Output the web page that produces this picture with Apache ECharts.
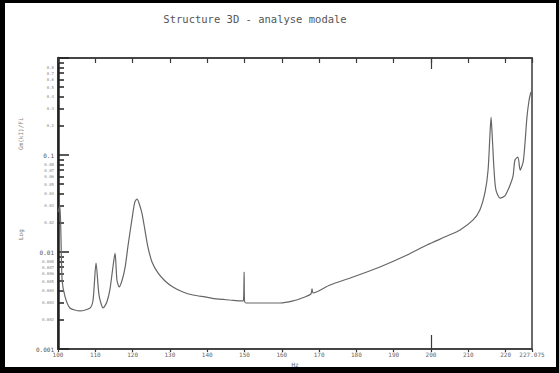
<!DOCTYPE html>
<html>
<head>
<meta charset="utf-8">
<script src="https://cdn.jsdelivr.net/npm/echarts@6/dist/echarts.min.js"></script>
<style>
  html, body { margin: 0; padding: 0; background: #fff; }
  #chart { position: absolute; left: 0; top: 0; width: 559px; height: 373px; }
  #frame { position: absolute; left: 0; top: 0; width: 559px; height: 373px; box-sizing: border-box;
           border-style: solid; border-color: #000; border-width: 3px 3px 6px 5px; pointer-events: none; }
</style>
</head>
<body>
<div id="chart"></div>
<div id="frame"></div>
<script>
// Structure 3D - analyse modale (log amplitude vs frequency)
var freq = [100.0, 100.5, 101.1, 101.9, 103.2, 105.9, 108.6, 109.4, 110.2, 111.0,
            112.1, 113.1, 113.9, 114.8, 115.3, 115.8, 116.4, 117.2, 118.0, 118.8,
            119.8, 120.6, 121.2, 121.7, 122.5, 123.3, 124.1, 125.2, 126.8, 128.7,
            130.8, 133.5, 136.2, 139.4, 142.6, 146.1, 149.3, 149.7, 149.9, 150.0,
            150.4, 154.2, 159.5, 163.0, 166.2, 167.8, 168.1, 168.4, 172.9, 179.1,
            186.3, 193.6, 198.9, 204.3, 207.8, 211.3, 213.1, 214.5, 215.3, 215.8,
            216.1, 216.4, 216.9, 217.4, 218.5, 219.8, 221.2, 222.0, 222.5, 223.3,
            223.9, 224.7, 225.2, 225.7, 226.3, 226.8];
var amp = [0.0258, 0.0305, 0.00514, 0.00344, 0.00265, 0.00247, 0.00265, 0.0032, 0.0077, 0.0036,
           0.00265, 0.00305, 0.00406, 0.00734, 0.00977, 0.00514, 0.00436, 0.00514, 0.0070, 0.0118,
           0.0214, 0.0328, 0.0352, 0.032, 0.0252, 0.0169, 0.0113, 0.00789, 0.00608, 0.00502,
           0.00436, 0.00387, 0.0036, 0.00344, 0.00328, 0.0032, 0.00313, 0.00313, 0.00622, 0.00313,
           0.00298, 0.00298, 0.00298, 0.00313, 0.00344, 0.00369, 0.00416, 0.00378, 0.00457, 0.00552,
           0.0070, 0.0093, 0.0118, 0.0146, 0.0169, 0.0214, 0.0271, 0.0416, 0.070, 0.161,
           0.246, 0.161, 0.070, 0.0436, 0.036, 0.0378, 0.0491, 0.0608, 0.0888, 0.0953,
           0.070, 0.0847, 0.133, 0.240, 0.369, 0.446];

var xMin = 100, xMax = 227.075, xStep = 10;
var xMajor = [200];
var yMajor = [0.001, 0.01, 0.1, 1];
var yMinor = [0.002, 0.003, 0.004, 0.005, 0.006, 0.007, 0.008, 0.009,
              0.02, 0.03, 0.04, 0.05, 0.06, 0.07, 0.08, 0.09,
              0.2, 0.3, 0.4, 0.5, 0.6, 0.7, 0.8, 0.9];
var yLabels = [0.001, 0.002, 0.003, 0.004, 0.005, 0.006, 0.007, 0.008,
               0.01, 0.02, 0.03, 0.04, 0.05, 0.06, 0.07, 0.08,
               0.1, 0.2, 0.3, 0.4, 0.5, 0.6, 0.7, 0.8];

(function() {
  var ink = '#3a3a3a';
  var mono = '"DejaVu Sans Mono", "Liberation Mono", monospace';
  var chart = echarts.init(document.getElementById('chart'), null, { renderer: 'svg' });

  var points = freq.map(function(f, i) { return [f, amp[i]]; });

  function xAxisBase(pos) {
    return {
      type: 'value', position: pos, min: xMin, max: xMax, interval: xStep,
      axisLine: { show: true, onZero: false, lineStyle: { color: ink, width: 1.5 } },
      axisTick: { show: true, inside: true, length: 5, lineStyle: { color: ink, width: 1.2 } },
      axisLabel: { show: false },
      splitLine: { show: false }
    };
  }

  var bottomX = xAxisBase('bottom');
  bottomX.axisTick.inside = false;
  bottomX.axisTick.length = 3;
  bottomX.axisLabel = { show: true, color: '#666', fontSize: 6, fontFamily: mono, margin: 2,
                        showMinLabel: true, showMaxLabel: true };
  bottomX.name = 'Hz';
  bottomX.nameLocation = 'middle';
  bottomX.nameGap = 12;
  bottomX.nameTextStyle = { color: '#666', fontSize: 6, fontFamily: mono };

  var bottomMajor = xAxisBase('bottom');
  bottomMajor.axisLine.show = false;
  bottomMajor.axisTick = { show: true, inside: true, length: 14, customValues: xMajor,
                           lineStyle: { color: ink, width: 1.2 } };
  var topX = xAxisBase('top');
  var topMajor = xAxisBase('top');
  topMajor.axisLine.show = false;
  topMajor.axisTick = { show: true, inside: true, length: 11, customValues: xMajor,
                        lineStyle: { color: ink, width: 1.2 } };

  chart.setOption({
    animation: false,
    backgroundColor: '#fff',
    title: {
      text: 'Structure 3D - analyse modale',
      left: 250, top: 8, textAlign: 'center',
      textStyle: { color: '#555', fontSize: 10.5, fontWeight: 'normal', fontFamily: mono }
    },
    grid: { left: 58, right: 27, top: 58, bottom: 24, show: true, borderColor: ink, borderWidth: 1.5 },
    xAxis: [bottomX, topX, bottomMajor, topMajor],
    yAxis: [
      {
        type: 'log', logBase: 10, min: 0.001, max: 1, position: 'left',
        axisLine: { show: true, onZero: false, lineStyle: { color: '#222', width: 2.5 } },
        axisTick: { show: true, inside: true, length: 6, customValues: yMinor,
                    lineStyle: { color: '#222', width: 1.5 } },
        axisLabel: {
          show: true, customValues: yLabels, margin: 4, color: '#888', fontFamily: mono,
          fontSize: 4,
          formatter: function(v) {
            var s = String(v);
            if (v === 0.1 || v === 0.01 || v === 0.001) return '{b|' + s + '}';
            return s;
          },
          rich: { b: { fontSize: 6, color: '#555', fontFamily: mono } }
        },
        splitLine: { show: false }
      },
      {
        type: 'log', logBase: 10, min: 0.001, max: 1, position: 'left',
        axisLine: { show: false },
        axisTick: { show: true, inside: true, length: 11, customValues: yMajor,
                    lineStyle: { color: '#222', width: 1.5 } },
        axisLabel: { show: false },
        splitLine: { show: false }
      }
    ],
    graphic: [
      { type: 'text', x: 17, y: 150, rotation: Math.PI / 2,
        style: { text: 'Gm(kI)/Fi', fill: '#888', fontSize: 6, fontFamily: mono } },
      { type: 'text', x: 17, y: 240, rotation: Math.PI / 2,
        style: { text: 'Log', fill: '#777', fontSize: 6, fontFamily: mono } }
    ],
    series: [{
      type: 'line',
      xAxisIndex: 0,
      yAxisIndex: 0,
      data: points,
      showSymbol: false,
      smooth: 0.25,
      lineStyle: { color: '#666', width: 1.2 }
    }]
  });
})();
</script>
</body>
</html>
